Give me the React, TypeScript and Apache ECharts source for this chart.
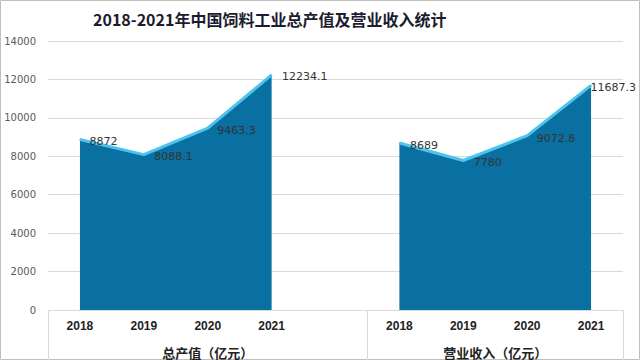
import React, { useEffect, useRef } from "react";
import * as echarts from "echarts";

const TITLE = "2018-2021年中国饲料工业总产值及营业收入统计";
const years = ["2018", "2019", "2020", "2021"];
const groupNames = ["总产值（亿元）", "营业收入（亿元）"];
const outputValues = [8872, 8088.1, 9463.3, 12234.1];
const revenueValues = [8689, 7780, 9072.8, 11687.3];
const yTicks = { min: 0, max: 14000, interval: 2000 };

// label nudges (style only)
const outputLabelOffsets = [[4, 2], [5, 2], [4, 2], [5, 2]];
const revenueLabelOffsets = [[5, 2], [5, 2], [4, 3], [-6, 2]];

const categories = [...years, "", ...years];

const GRID = { left: 48, right: 17, top: 41, bottom: 50 };
const W = 640;
const H = 360;

export default function App() {
  const ref = useRef<HTMLDivElement>(null);
  useEffect(() => {
    if (!ref.current) return;
    const chart = echarts.init(ref.current, null, { renderer: "svg" });

    const mk = (vals: number[], offs: number[][], startIdx: number) => {
      const arr: any[] = categories.map(() => null);
      vals.forEach((v, i) => {
        arr[startIdx + i] = {
          value: v,
          label: { offset: offs[i] },
        };
      });
      return arr;
    };

    const lineColor = "#4dc4ee";
    const areaColor = "#0a6fa1";
    const seriesBase = {
      type: "line",
      smooth: false,
      connectNulls: false,
      symbol: "circle",
      symbolSize: 1,
      itemStyle: { color: lineColor },
      lineStyle: { color: lineColor, width: 3 },
      areaStyle: { color: areaColor, opacity: 1 },
      label: {
        show: true,
        position: "right",
        distance: 5,
        color: "#333",
        fontSize: 11,
        fontFamily: "DejaVu Sans",
      },
      z: 3,
    };

    const plotW = W - GRID.left - GRID.right;
    const band = plotW / categories.length;
    const axisY = H - GRID.bottom;
    const divX = [GRID.left, GRID.left + band * 5, W - GRID.right];
    const lineStyle = { stroke: "#d9d9d9", lineWidth: 1 };

    chart.setOption({
      animation: false,
      backgroundColor: "#ffffff",
      title: {
        text: TITLE,
        left: 88,
        top: 6,
        textStyle: {
          fontFamily: "Noto Sans CJK SC",
          fontWeight: "bold",
          fontSize: 16,
          color: "#1c1c30",
        },
      },
      grid: { ...GRID },
      xAxis: {
        type: "category",
        data: categories,
        boundaryGap: true,
        axisLine: { show: true, lineStyle: { color: "#d9d9d9" } },
        axisTick: { show: false },
        axisLabel: {
          margin: 10,
          color: "#222",
          fontWeight: "bold",
          fontSize: 12,
          fontFamily: "Liberation Sans",
          interval: 0,
        },
      },
      yAxis: {
        type: "value",
        min: yTicks.min,
        max: yTicks.max,
        interval: yTicks.interval,
        axisLine: { show: false },
        axisTick: { show: false },
        axisLabel: {
          margin: 12,
          color: "#595959",
          fontSize: 10,
          fontFamily: "DejaVu Sans",
          formatter: (v: number) => String(v),
        },
        splitLine: { lineStyle: { color: "#d9d9d9", width: 1 } },
      },
      series: [
        { ...seriesBase, name: groupNames[0], data: mk(outputValues, outputLabelOffsets, 0) },
        { ...seriesBase, name: groupNames[1], data: mk(revenueValues, revenueLabelOffsets, 5) },
      ],
      graphic: [
        {
          type: "rect",
          shape: { x: 0.5, y: 0.5, width: W - 1, height: H - 1 },
          style: { fill: "none", stroke: "#bfbfbf", lineWidth: 1 },
          silent: true,
        },
        ...divX.map((x) => ({
          type: "line",
          shape: { x1: Math.round(x) + 0.5, y1: axisY, x2: Math.round(x) + 0.5, y2: H },
          style: lineStyle,
          silent: true,
        })),
        {
          type: "text",
          x: (divX[0] + divX[1]) / 2,
          y: 352,
          style: {
            text: groupNames[0],
            align: "center",
            verticalAlign: "middle",
            fontFamily: "Noto Sans CJK SC",
            fontWeight: "bold",
            fontSize: 13,
            fill: "#222",
          },
        },
        {
          type: "text",
          x: (divX[1] + divX[2]) / 2,
          y: 352,
          style: {
            text: groupNames[1],
            align: "center",
            verticalAlign: "middle",
            fontFamily: "Noto Sans CJK SC",
            fontWeight: "bold",
            fontSize: 13,
            fill: "#222",
          },
        },
      ],
    });
    return () => chart.dispose();
  }, []);

  return (
    <div
      ref={ref}
      style={{ position: "fixed", left: 0, top: 0, width: W, height: H }}
    />
  );
}
